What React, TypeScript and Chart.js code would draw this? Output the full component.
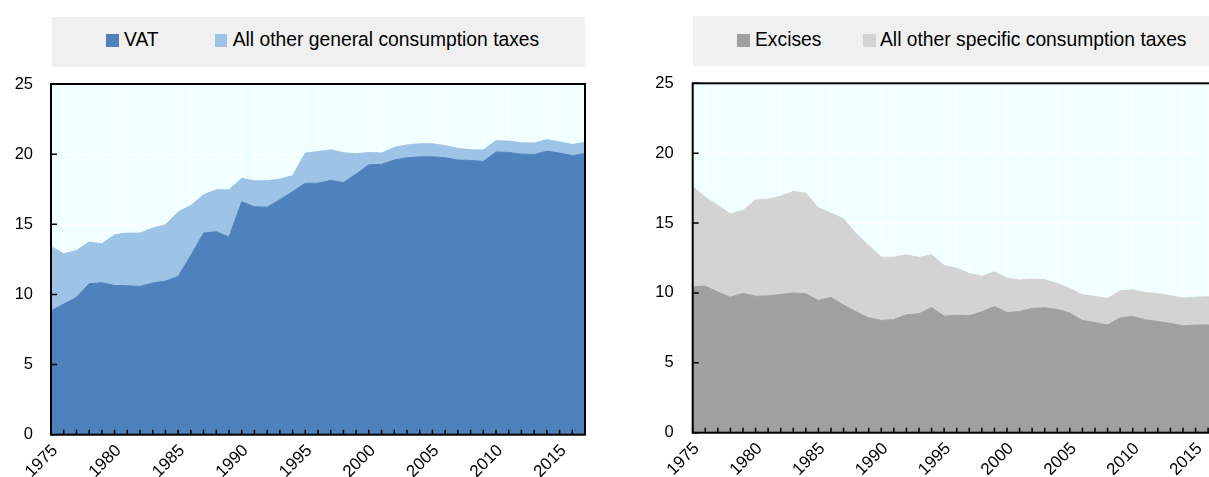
import React, { useEffect, useRef } from 'react';
import { Chart, registerables } from 'chart.js';

Chart.register(...registerables);

const years = [
  '1975','1976','1977','1978','1979','1980','1981','1982','1983','1984',
  '1985','1986','1987','1988','1989','1990','1991','1992','1993','1994',
  '1995','1996','1997','1998','1999','2000','2001','2002','2003','2004',
  '2005','2006','2007','2008','2009','2010','2011','2012','2013','2014',
  '2015','2016','2017',
];
const tickYears = ['1975', '1980', '1985', '1990', '1995', '2000', '2005', '2010', '2015'];

// Left panel: general consumption taxes (% of total tax revenue)
const vat = [
  8.84, 9.31, 9.79, 10.76, 10.83, 10.64, 10.62, 10.57, 10.81, 10.95,
  11.28, 12.78, 14.37, 14.47, 14.09, 16.6, 16.25, 16.22, 16.75, 17.32,
  17.93, 17.93, 18.13, 17.98, 18.58, 19.24, 19.27, 19.58, 19.74, 19.81,
  19.81, 19.74, 19.58, 19.55, 19.48, 20.15, 20.12, 20.0, 19.98, 20.2,
  20.08, 19.89, 20.05,
];
const otherGeneral = [
  4.58, 3.59, 3.34, 2.97, 2.78, 3.61, 3.75, 3.8, 3.92, 4.01,
  4.59, 3.56, 2.73, 2.99, 3.37, 1.67, 1.85, 1.88, 1.47, 1.14,
  2.14, 2.25, 2.18, 2.12, 1.45, 0.88, 0.81, 0.9, 0.91, 0.93,
  0.93, 0.86, 0.83, 0.76, 0.81, 0.8, 0.81, 0.81, 0.81, 0.83,
  0.8, 0.8, 0.79,
];

// Right panel: specific consumption taxes
const excises = [
  10.44, 10.49, 10.06, 9.7, 9.96, 9.77, 9.79, 9.89, 10.0, 9.94,
  9.46, 9.68, 9.13, 8.65, 8.22, 8.03, 8.1, 8.44, 8.51, 8.96,
  8.34, 8.41, 8.36, 8.65, 9.03, 8.6, 8.67, 8.89, 8.94, 8.82,
  8.56, 8.03, 7.89, 7.7, 8.22, 8.32, 8.08, 7.96, 7.82, 7.65,
  7.7, 7.7, 7.7,
];
const otherSpecific = [
  7.18, 6.36, 6.2, 5.96, 5.94, 6.89, 6.92, 7.03, 7.26, 7.2,
  6.63, 6.03, 6.17, 5.58, 5.18, 4.53, 4.46, 4.29, 4.03, 3.77,
  3.62, 3.35, 3.03, 2.55, 2.48, 2.46, 2.25, 2.1, 2.0, 1.86,
  1.76, 1.84, 1.86, 1.9, 1.93, 1.9, 1.95, 2.0, 1.98, 1.98,
  2.0, 2.02, 2.02,
];

const FONT = '"Liberation Sans", Arial, Helvetica, sans-serif';

const decoPlugin = {
  id: 'panelDeco',
  beforeDraw(chart: any) {
    const { ctx, chartArea: a } = chart;
    ctx.save();
    ctx.fillStyle = '#f0ffff';
    ctx.fillRect(a.left, a.top, a.right - a.left, a.bottom - a.top);
    ctx.restore();
  },
  afterDraw(chart: any) {
    const { ctx, chartArea: a, scales } = chart;
    ctx.save();
    ctx.strokeStyle = '#000';
    ctx.lineWidth = 1.5;
    ctx.beginPath();
    const xs = scales.x;
    for (let i = 0; i < xs.ticks.length; i++) {
      const px = xs.getPixelForTick(i);
      ctx.moveTo(px, a.bottom);
      ctx.lineTo(px, a.bottom - 5);
    }
    const ys = scales.y;
    for (let i = 0; i < ys.ticks.length; i++) {
      const py = ys.getPixelForTick(i);
      ctx.moveTo(a.left, py);
      ctx.lineTo(a.left + 6, py);
    }
    ctx.stroke();
    ctx.lineWidth = 2;
    ctx.strokeRect(a.left, a.top, a.right - a.left, a.bottom - a.top);
    ctx.restore();
  },
};

type Geo = { yWidth: number; xHeight: number; padTop: number; padRight: number; tickPad: number };

function makeConfig(
  d1: number[], d2: number[], label1: string, label2: string,
  c1: string, c2: string, g: Geo
): any {
  return {
    type: 'line',
    data: {
      labels: years,
      datasets: [
        { label: label1, data: d1, backgroundColor: c1, borderColor: c1, borderWidth: 1, fill: 'origin', pointRadius: 0, tension: 0 },
        { label: label2, data: d2, backgroundColor: c2, borderColor: c2, borderWidth: 1, fill: '-1', pointRadius: 0, tension: 0 },
      ],
    },
    options: {
      animation: false,
      responsive: false,
      devicePixelRatio: 1,
      layout: { padding: { top: g.padTop, right: g.padRight, left: 0, bottom: 0 } },
      plugins: { legend: { display: false }, tooltip: { enabled: false } },
      scales: {
        x: {
          type: 'category',
          offset: false,
          grid: { color: '#ffffff', lineWidth: 1, drawTicks: false },
          border: { display: false },
          ticks: {
            autoSkip: false,
            minRotation: 45,
            maxRotation: 45,
            padding: 6,
            labelOffset: 4,
            color: '#000',
            font: { family: FONT, size: 17 },
            callback: (_v: any, i: number) => (tickYears.includes(years[i]) ? years[i] : ''),
          },
          afterFit: (s: any) => { s.height = g.xHeight; s.paddingLeft = 0; s.paddingRight = 0; },
        },
        y: {
          stacked: true,
          min: 0,
          max: 25,
          grid: { color: '#ffffff', lineWidth: 1, drawTicks: false },
          border: { display: false },
          ticks: {
            stepSize: 5,
            padding: g.tickPad,
            color: '#000',
            font: { family: FONT, size: 16.5 },
          },
          afterFit: (s: any) => { s.width = g.yWidth; s.paddingTop = 0; s.paddingBottom = 0; },
        },
      },
    },
    plugins: [decoPlugin],
  };
}

function Panel(props: {
  left: number; top: number; width: number; height: number; config: any;
}) {
  const ref = useRef<HTMLCanvasElement>(null);
  useEffect(() => {
    const chart = new Chart(ref.current as HTMLCanvasElement, props.config);
    return () => chart.destroy();
  }, []);
  return (
    <canvas
      ref={ref}
      width={props.width}
      height={props.height}
      style={{ position: 'absolute', left: props.left, top: props.top, width: props.width, height: props.height }}
    />
  );
}

function LegendItem(props: { x: number; textX: number; color: string; text: string }) {
  return (
    <>
      <div style={{ position: 'absolute', left: props.x, top: 34, width: 12.5, height: 12.5, background: props.color }} />
      <div
        style={{
          position: 'absolute', left: props.textX, top: 28.7, fontFamily: FONT, fontSize: 19.3,
          lineHeight: '22px', color: '#000', whiteSpace: 'nowrap',
        }}
      >
        {props.text}
      </div>
    </>
  );
}

export default function App() {
  const leftCfg = makeConfig(vat, otherGeneral, 'VAT', 'All other general consumption taxes', '#4f81bd', '#9dc3e6',
    { yWidth: 51, xHeight: 42.3, padTop: 14, padRight: 15, tickPad: 18 });
  const rightCfg = makeConfig(excises, otherSpecific, 'Excises', 'All other specific consumption taxes', '#a0a0a0', '#d3d3d3',
    { yWidth: 72.7, xHeight: 42.3, padTop: 13.3, padRight: 19.3, tickPad: 19 });
  return (
    <div style={{ position: 'fixed', left: 0, top: 0, width: 1209, height: 477, overflow: 'hidden', background: '#fff' }}>
      <div style={{ position: 'absolute', left: 52, top: 17, width: 533, height: 50, background: '#f0f0f0' }} />
      <LegendItem x={106} textX={124} color="#4f81bd" text="VAT" />
      <LegendItem x={214.5} textX={232.7} color="#9dc3e6" text="All other general consumption taxes" />
      <div style={{ position: 'absolute', left: 693, top: 16, width: 600, height: 50, background: '#f0f0f0' }} />
      <LegendItem x={737} textX={755} color="#a0a0a0" text="Excises" />
      <LegendItem x={863} textX={880} color="#d3d3d3" text="All other specific consumption taxes" />
      <Panel left={0} top={70} width={600} height={407} config={leftCfg} />
      <Panel left={620} top={70} width={620} height={405} config={rightCfg} />
    </div>
  );
}
